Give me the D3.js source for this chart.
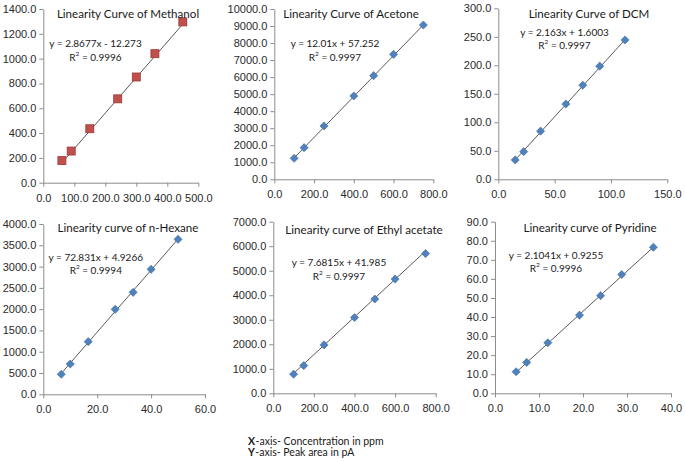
<!DOCTYPE html>
<html><head><meta charset="utf-8">
<script src="https://cdn.jsdelivr.net/npm/d3@7/dist/d3.min.js"></script>
<style>
body{margin:0;background:#fff;}
svg{font-family:Lato,"Open Sans",sans-serif;}
</style></head>
<body><svg id="c" width="685" height="462"></svg>
<script>
// ---- data ----
const titles = ["Linearity Curve of Methanol","Linearity Curve of Acetone","Linearity Curve of DCM",
  "Linearity curve of n-Hexane","Linearity curve of Ethyl acetate","Linearity curve of Pyridine"];
const equations = ["y = 2.8677x - 12.273","y = 12.01x + 57.252","y = 2.163x + 1.6003",
  "y = 72.831x + 4.9266","y = 7.6815x + 41.985","y = 2.1041x + 0.9255"];
const r2Values = ["0.9996","0.9997","0.9997","0.9994","0.9997","0.9996"];
const slopes = [2.8677, 12.01, 2.163, 72.831, 7.6815, 2.1041];
const intercepts = [-12.273, 57.252, 1.6003, 4.9266, 41.985, 0.9255];

const methanolX = [60, 90, 150, 240, 300, 360, 450];
const methanolY = [178, 255, 435, 676, 852, 1040, 1296];
const acetoneX = [100, 150, 250, 400, 500, 600, 750];
const acetoneY = [1233, 1859, 3131, 4892, 6086, 7339, 9061];
const dcmX = [15, 22.5, 37.5, 60, 75, 90, 112.5];
const dcmY = [34, 48.5, 84.5, 132, 165, 198.5, 244.5];
const hexaneX = [6.67, 10, 16.67, 26.67, 33.33, 40, 50];
const hexaneY = [470, 712, 1237, 1996, 2395, 2935, 3640];
const ethylX = [100, 150, 250, 400, 500, 600, 750];
const ethylY = [780, 1130, 1975, 3090, 3845, 4660, 5700];
const pyridineX = [4.8, 7.2, 12, 19.2, 24, 28.8, 36];
const pyridineY = [11.3, 16.2, 26.5, 41.0, 51.2, 62.3, 76.6];

const xTicks = [[0,100,200,300,400,500],[0,200,400,600,800],[0,50,100,150],
  [0,20,40,60],[0,200,400,600,800],[0,10,20,30,40]];
const yTicks = [[0,200,400,600,800,1000,1200,1400],
  [0,1000,2000,3000,4000,5000,6000,7000,8000,9000,10000],
  [0,50,100,150,200,250,300],
  [0,500,1000,1500,2000,2500,3000,3500,4000],
  [0,1000,2000,3000,4000,5000,6000,7000],
  [0,10,20,30,40,50,60,70,80,90]];
const seriesX = [methanolX, acetoneX, dcmX, hexaneX, ethylX, pyridineX];
const seriesY = [methanolY, acetoneY, dcmY, hexaneY, ethylY, pyridineY];
const noteLabels = [["X","-axis- Concentration in ppm"],["Y","-axis- Peak area in pA"]];

// ---- layout ----
const layout = [
  {x0:43.3,x1:198.3,y0:9,y1:182.7, tx:128,ty:13, ex:95.5,ey:43.3,ry:57.3, marker:"square"},
  {x0:274.3,x1:433.3,y0:9,y1:179.3, tx:351,ty:13, ex:335,ey:43.3,ry:56.5, marker:"diamond"},
  {x0:498.3,x1:667.3,y0:8.3,y1:179.3, tx:589,ty:13, ex:564.5,ey:31.7,ry:45, marker:"diamond"},
  {x0:43.3,x1:205,y0:224,y1:394.3, tx:128,ty:227, ex:95.8,ey:256.7,ry:270, marker:"diamond"},
  {x0:273.3,x1:435.7,y0:221.7,y1:393.3, tx:364,ty:229, ex:339,ey:262.3,ry:275.7, marker:"diamond"},
  {x0:495,x1:671,y0:221.7,y1:393.3, tx:590,ty:227, ex:556,ey:255,ry:268.3, marker:"diamond"}
];

const svg = d3.select("#c");
const fmt = d3.format(".1f");

layout.forEach((L,i)=>{
  const xs = d3.scaleLinear().domain([xTicks[i][0], xTicks[i][xTicks[i].length-1]]).range([L.x0,L.x1]);
  const ys = d3.scaleLinear().domain([yTicks[i][0], yTicks[i][yTicks[i].length-1]]).range([L.y1,L.y0]);
  const g = svg.append("g");
  const xa = g.append("g").attr("transform",`translate(0,${L.y1})`)
    .call(d3.axisBottom(xs).tickValues(xTicks[i]).tickFormat(fmt).tickSize(4).tickSizeOuter(0));
  const ya = g.append("g").attr("transform",`translate(${L.x0},0)`)
    .call(d3.axisLeft(ys).tickValues(yTicks[i]).tickFormat(fmt).tickSize(4).tickSizeOuter(0));
  [xa,ya].forEach(a=>{
    a.select(".domain").attr("stroke","#8c8c8c");
    a.selectAll(".tick line").attr("stroke","#8c8c8c");
    a.selectAll(".tick text").attr("fill","#2a2a2a").style("font-size","11px");
  });
  xa.selectAll(".tick text").attr("dy","1.1em");
  ya.selectAll(".tick text").attr("x",-7);

  // trendline
  const xmin = d3.min(seriesX[i]), xmax = d3.max(seriesX[i]);
  g.append("line")
    .attr("x1",xs(xmin)).attr("y1",ys(slopes[i]*xmin+intercepts[i]))
    .attr("x2",xs(xmax)).attr("y2",ys(slopes[i]*xmax+intercepts[i]))
    .attr("stroke","#5a5a5a").attr("stroke-width",1);

  const pts = seriesX[i].map((x,k)=>[x,seriesY[i][k]]);
  if(L.marker==="square"){
    g.selectAll("rect.m").data(pts).enter().append("rect")
      .attr("x",d=>xs(d[0])-4).attr("y",d=>ys(d[1])-4).attr("width",8).attr("height",8)
      .attr("fill","#c0504d").attr("stroke","#9c3a37").attr("stroke-width",0.8);
  } else {
    g.selectAll("path.m").data(pts).enter().append("path")
      .attr("d",d3.symbol().type(d3.symbolDiamond2).size(42))
      .attr("transform",d=>`translate(${xs(d[0])},${ys(d[1])})`)
      .attr("fill","#4f81bd").attr("stroke","#3d6a9e").attr("stroke-width",0.6);
  }

  g.append("text").attr("x",L.tx).attr("y",L.ty).attr("text-anchor","middle")
    .attr("dominant-baseline","central").attr("fill","#1a1a1a")
    .style("font-size","11.6px").text(titles[i]);
  g.append("text").attr("x",L.ex).attr("y",L.ey).attr("text-anchor","middle")
    .attr("dominant-baseline","central").attr("fill","#1a1a1a")
    .style("font-size","10px").text(equations[i]);
  const r = g.append("text").attr("x",L.ex).attr("y",L.ry).attr("text-anchor","middle")
    .attr("dominant-baseline","central").attr("fill","#1a1a1a").style("font-size","10px");
  r.append("tspan").text("R");
  r.append("tspan").attr("dy",-4).style("font-size","6.5px").text("2");
  r.append("tspan").attr("dy",4).text(" = " + r2Values[i]);
});

const noteY = [445, 456];
noteLabels.forEach((pair,k)=>{
  const b = svg.append("text").attr("x",248).attr("y",noteY[k]).style("font-size","10.5px")
    .style("font-weight","bold").attr("fill","#1a1a1a").text(pair[0]);
  const w = b.node().getComputedTextLength();
  svg.append("text").attr("x",248+w+0.5).attr("y",noteY[k]).style("font-size","10.5px")
    .attr("fill","#1a1a1a").text(pair[1]);
});
</script></body></html>
